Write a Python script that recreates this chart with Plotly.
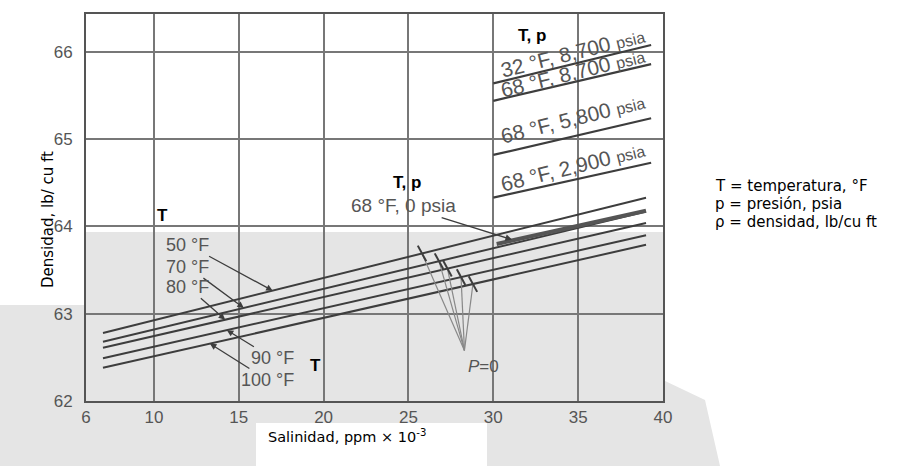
import plotly.graph_objects as go

# ---------------- data ----------------
sal_ends = [7, 39]
temps = ["50 °F", "70 °F", "80 °F", "90 °F", "100 °F"]
dens_T = {
    "50 °F": [62.78, 64.33],
    "70 °F": [62.68, 64.17],
    "80 °F": [62.61, 64.04],
    "90 °F": [62.49, 63.90],
    "100 °F": [62.38, 63.79],
}
sal_68_0 = [30.2, 39]
dens_68_0 = [63.80, 64.18]

sal_p = [30, 39.3]
p_labels = ["32 °F, 8,700", "68 °F, 8,700", "68 °F, 5,800", "68 °F, 2,900"]
dens_p = {
    "32 °F, 8,700": [65.64, 66.08],
    "68 °F, 8,700": [65.44, 65.86],
    "68 °F, 5,800": [64.82, 65.24],
    "68 °F, 2,900": [64.33, 64.73],
}
# P = 0 fan: start salinity on each T line, converging point
fan_sal = [25.8, 26.8, 27.3, 28.1, 28.8]
fan_end = (28.3, 62.58)

x_ticks = [6, 10, 15, 20, 25, 30, 35, 40]
y_ticks = [62, 63, 64, 65, 66]

LINE = "#3d3d3d"
GRAY = "#555555"
FONT = "Liberation Sans, Arial"

fig = go.Figure()

def on_line(t, s):
    d0, d1 = dens_T[t]
    return d0 + (d1 - d0) * (s - sal_ends[0]) / (sal_ends[1] - sal_ends[0])

for t in temps:
    fig.add_trace(go.Scatter(x=sal_ends, y=dens_T[t], mode="lines",
                             line=dict(color=LINE, width=2), hoverinfo="skip"))
fig.add_trace(go.Scatter(x=sal_68_0, y=dens_68_0, mode="lines",
                         line=dict(color="#555", width=4), hoverinfo="skip"))
for p in p_labels:
    fig.add_trace(go.Scatter(x=sal_p, y=dens_p[p], mode="lines",
                             line=dict(color=LINE, width=2.2), hoverinfo="skip"))
# fan
for t, s in zip(temps, fan_sal):
    y0 = on_line(t, s)
    fig.add_trace(go.Scatter(x=[s, fan_end[0]], y=[y0, fan_end[1]], mode="lines",
                             line=dict(color="#888", width=1.2), hoverinfo="skip"))
    fig.add_trace(go.Scatter(x=[s - 0.25, s + 0.25], y=[y0 + 0.09, y0 - 0.09], mode="lines",
                             line=dict(color=LINE, width=2), hoverinfo="skip"))

ann = []
def A(x, y, text, size=18, color=GRAY, angle=0, bold=False, **kw):
    t = f"<b>{text}</b>" if bold else text
    d = dict(x=x, y=y, xref="x", yref="y", text=t, showarrow=False,
             font=dict(family=FONT, size=size, color=color),
             textangle=angle)
    d.update(kw)
    ann.append(d)

# top-right pressure labels
A(32.3, 66.19, "T, p", size=17, color="black", bold=True)
rot = -14
for p, yy in zip(p_labels, [65.99, 65.76, 65.24, 64.69]):
    A(34.7, yy, p + " <span style='font-size:16px'>psia</span>", size=21, angle=rot)

# left T labels
A(10.5, 64.13, "T", size=17, color="black", bold=True)
arrow = dict(showarrow=True, arrowhead=2, arrowsize=1, arrowwidth=1.3, arrowcolor=LINE,
             axref="x", ayref="y")
for t, s, (tx, ty) in zip(["50 °F", "70 °F", "80 °F"], [17.0, 15.3, 14.2],
                          [(12.0, 63.79), (12.0, 63.54), (12.0, 63.31)]):
    A(s, on_line(t, s), t, ax=tx, ay=ty, **arrow)
for t, s, (tx, ty) in zip(["90 °F", "100 °F"], [14.3, 13.3], [(17.0, 62.49), (16.7, 62.24)]):
    A(s, on_line(t, s), t, ax=tx, ay=ty, **arrow)
A(19.5, 62.41, "T", size=17, color="black", bold=True)

# 68 F, 0 psia
A(24.9, 64.50, "T, p", size=17, color="black", bold=True)
A(31.1, 63.85, "68 °F, 0 psia", size=19, ax=24.7, ay=64.24, **arrow)
A(29.4, 62.39, "<i>P</i>=0", size=17)

W, H = 909, 466
L, R, T, B = 86, 246, 14, 65
pw, ph = W - L - R, H - T - B
def px(xp): return (xp - L) / pw
def py(yp): return (H - B - yp) / ph

# right legend
for i, txt in enumerate(["T = temperatura, °F", "p = presión, psia", "ρ = densidad, lb/cu ft"]):
    ann.append(dict(x=px(713), y=py(186 + 18 * i), xref="paper", yref="paper", text=txt,
                    showarrow=False, xanchor="left", yanchor="middle",
                    font=dict(family="DejaVu Sans", size=15, color="black")))

# axis titles
ann.append(dict(x=px(347), y=py(447), xref="paper", yref="paper",
                text="Salinidad, ppm × 10<sup>-3</sup>", showarrow=False,
                font=dict(family="DejaVu Sans", size=14.5, color="black")))
ann.append(dict(x=px(37), y=py(220), xref="paper", yref="paper",
                text="Densidad, lb/ cu ft", showarrow=False, textangle=-90,
                font=dict(family="DejaVu Sans", size=15, color="black")))

shapes = [
    dict(type="path", xref="paper", yref="paper", layer="below",
         path=f"M {px(0)},{py(305)} L {px(86)},{py(305)} L {px(86)},{py(232)} L {px(663)},{py(232)} "
              f"L {px(663)},{py(380)} L {px(705)},{py(400)} L {px(720)},{py(466)} L {px(0)},{py(466)} Z",
         fillcolor="#e5e5e5", line=dict(width=0)),
    dict(type="rect", xref="paper", yref="paper", layer="below",
         x0=px(256), x1=px(487), y0=py(466), y1=py(423), fillcolor="white", line=dict(width=0)),
]

fig.update_layout(
    width=W, height=H, margin=dict(l=L, r=R, t=T, b=B),
    paper_bgcolor="white", plot_bgcolor="rgba(0,0,0,0)",
    showlegend=False, annotations=ann, shapes=shapes,
    xaxis=dict(range=[6, 40], tickvals=x_ticks, showgrid=True, gridcolor="#777",
               gridwidth=1.5, showline=True, linecolor="#555", linewidth=2, mirror=True,
               zeroline=False, tickfont=dict(family=FONT, size=17, color=GRAY)),
    yaxis=dict(range=[62, 66.435], tickvals=y_ticks, showgrid=True, gridcolor="#777",
               gridwidth=1.5, showline=True, linecolor="#555", linewidth=2, mirror=True,
               zeroline=False, ticklabelstandoff=8,
               tickfont=dict(family=FONT, size=17, color=GRAY)),
)
fig.write_html("out.html")
